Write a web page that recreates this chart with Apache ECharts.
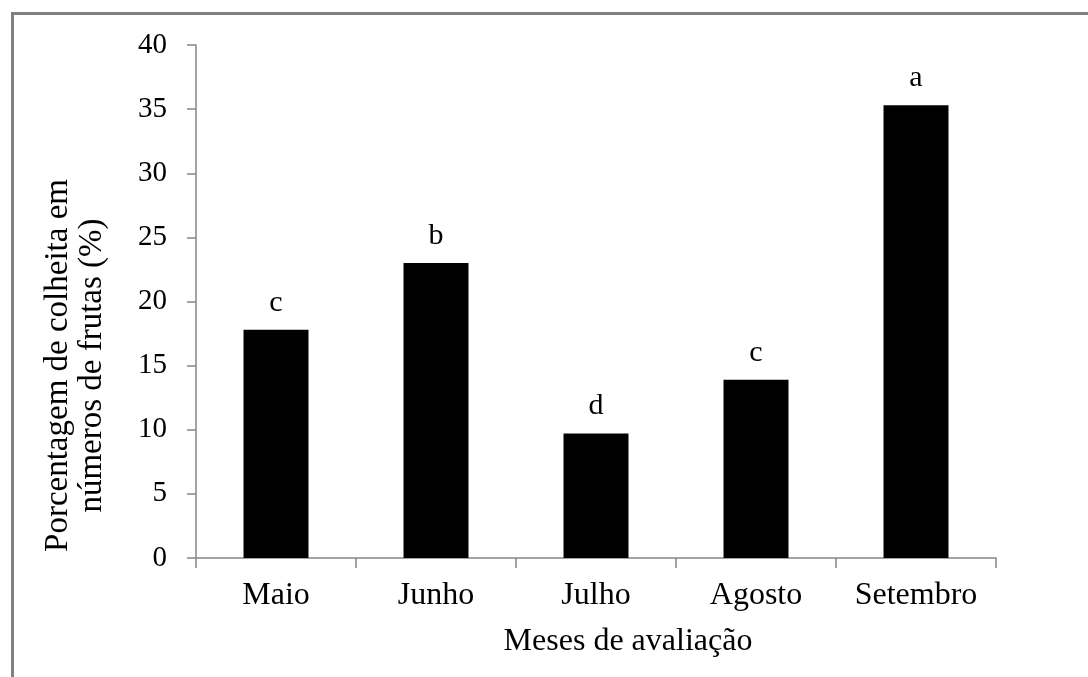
<!DOCTYPE html>
<html>
<head>
<meta charset="utf-8">
<script src="https://cdn.jsdelivr.net/npm/echarts@6/dist/echarts.min.js"></script>
<style>
  html, body { margin: 0; padding: 0; background: #fff; }
  #main { width: 1088px; height: 677px; }
</style>
</head>
<body>
<div id="main"></div>
<script>
// meses avaliados
const months = ['Maio', 'Junho', 'Julho', 'Agosto', 'Setembro'];
// porcentagem de colheita (%)
const harvestPct = [17.8, 23.0, 9.7, 13.9, 35.3];
// letras do teste de médias
const groupLetters = ['c', 'b', 'd', 'c', 'a'];

const serif = '"Liberation Serif", "DejaVu Serif", serif';
const axisGray = '#868686';

const chart = echarts.init(document.getElementById('main'));

const option = {
    animation: false,
    backgroundColor: '#fff',
    graphic: [{
        // moldura cinza
        type: 'rect',
        left: 10, top: 11,
        shape: { width: 2000, height: 2000 },
        style: { fill: 'none', stroke: '#808080', lineWidth: 3 },
        silent: true
    }],
    grid: { left: 196, right: 92, top: 45, bottom: 119 },
    xAxis: {
        type: 'category',
        data: months,
        name: 'Meses de avaliação',
        nameLocation: 'middle',
        nameGap: 68,
        nameTextStyle: { fontFamily: serif, fontSize: 32, color: '#000', padding: [0, 0, 0, 64] },
        axisLine: { lineStyle: { color: axisGray, width: 1.5 } },
        axisTick: { show: true, length: 10, lineStyle: { color: axisGray, width: 1.5 } },
        axisLabel: { fontFamily: serif, fontSize: 32, color: '#000', margin: 22 }
    },
    yAxis: {
        type: 'value',
        min: 0, max: 40, interval: 5,
        name: 'Porcentagem de colheita em\nnúmeros de frutas (%)',
        nameLocation: 'middle',
        nameRotate: 90,
        nameGap: 87,
        nameTextStyle: { fontFamily: serif, fontSize: 33, color: '#000', lineHeight: 34, padding: [0, 128, 0, 0] },
        splitLine: { show: false },
        axisLine: { show: true, lineStyle: { color: axisGray, width: 1.5 } },
        axisTick: { show: true, length: 9, lineStyle: { color: axisGray, width: 1.5 } },
        axisLabel: { fontFamily: serif, fontSize: 29, color: '#000', margin: 29 }
    },
    series: [{
        type: 'bar',
        data: harvestPct,
        barWidth: '40.6%',
        itemStyle: { color: '#000' },
        label: {
            show: true,
            position: 'top',
            distance: 12,
            fontFamily: serif,
            fontSize: 30,
            color: '#000',
            formatter: p => groupLetters[p.dataIndex]
        }
    }]
};

chart.setOption(option);
</script>
</body>
</html>
